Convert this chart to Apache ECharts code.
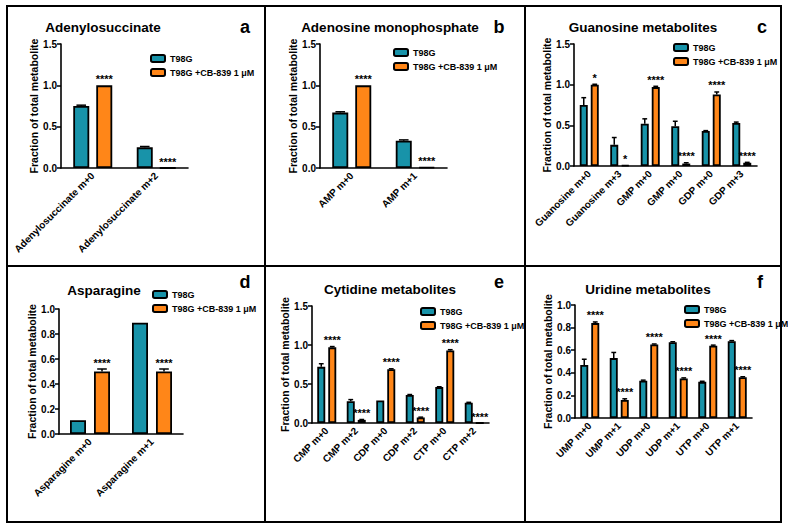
<!DOCTYPE html>
<html><head><meta charset="utf-8">
<script src="https://cdn.jsdelivr.net/npm/echarts@6/dist/echarts.min.js"></script>
<style>html,body{margin:0;padding:0;background:#fff}#c{width:788px;height:528px}</style>
</head><body><div id="c"></div>
<script>
const seriesNames = ['T98G', 'T98G +CB-839 1 μM'];

const aCats = ['Adenylosuccinate m+0', 'Adenylosuccinate m+2'];
const aT98G = [0.75, 0.25];
const aT98GErr = [0.01, 0.01];
const aCB = [1.0, 0.0];
const aCBErr = [0, 0];
const aStars = ['****', '****'];

const bCats = ['AMP m+0', 'AMP m+1'];
const bT98G = [0.67, 0.33];
const bT98GErr = [0.01, 0.01];
const bCB = [1.0, 0.01];
const bCBErr = [0, 0];
const bStars = ['****', '****'];

const cCats = ['Guanosine m+0', 'Guanosine m+3', 'GMP m+0', 'GMP m+0', 'GDP m+0', 'GDP m+3'];
const cT98G = [0.75, 0.26, 0.52, 0.49, 0.43, 0.53];
const cT98GErr = [0.09, 0.09, 0.06, 0.06, 0.005, 0.01];
const cCB = [1.0, 0.01, 0.97, 0.03, 0.88, 0.04];
const cCBErr = [0.005, 0, 0.01, 0.01, 0.03, 0.005];
const cStars = ['*', '*', '****', '****', '****', '****'];

const dCats = ['Asparagine m+0', 'Asparagine m+1'];
const dT98G = [0.11, 0.89];
const dT98GErr = [0, 0];
const dCB = [0.50, 0.50];
const dCBErr = [0.02, 0.02];
const dStars = ['****', '****'];

const eCats = ['CMP m+0', 'CMP m+2', 'CDP m+0', 'CDP m+2', 'CTP m+0', 'CTP m+2'];
const eT98G = [0.72, 0.28, 0.29, 0.36, 0.46, 0.26];
const eT98GErr = [0.04, 0.02, 0, 0.005, 0.005, 0.005];
const eCB = [0.97, 0.04, 0.69, 0.07, 0.93, 0.0];
const eCBErr = [0.01, 0.005, 0.005, 0.005, 0.01, 0];
const eStars = ['****', '****', '****', '****', '****', '****'];

const fCats = ['UMP m+0', 'UMP m+1', 'UDP m+0', 'UDP m+1', 'UTP m+0', 'UTP m+1'];
const fT98G = [0.47, 0.53, 0.33, 0.67, 0.32, 0.68];
const fT98GErr = [0.05, 0.05, 0.005, 0.005, 0.005, 0.005];
const fCB = [0.84, 0.16, 0.65, 0.35, 0.64, 0.36];
const fCBErr = [0.01, 0.01, 0.005, 0.005, 0.005, 0.005];
const fStars = ['****', '****', '****', '****', '****', '****'];

const yTicks15 = { max: 1.5, interval: 0.5 };
const yTicks10 = { max: 1.0, interval: 0.2 };

const FONT = '"Liberation Sans", Arial, sans-serif';
const TEAL = '#1893a9';
const ORANGE = '#ff8618';

const panels = [
  { title: 'Adenylosuccinate', letter: 'a', cats: aCats, t: aT98G, te: aT98GErr, o: aCB, oe: aCBErr, stars: aStars, y: yTicks15,
    grid: { left: 61, top: 44, width: 127, height: 124 }, barW: 16, gap: 7, titleX: 103, titleY: 27, letterX: 245, letterY: 27, legendX: 145, legendY: 49, nameGap: 18 },
  { title: 'Adenosine monophosphate', letter: 'b', cats: bCats, t: bT98G, te: bT98GErr, o: bCB, oe: bCBErr, stars: bStars, y: yTicks15,
    grid: { left: 320, top: 44, width: 127, height: 124 }, barW: 16, gap: 7, titleX: 390, titleY: 27, letterX: 499, letterY: 27, legendX: 388, legendY: 43, nameGap: 18 },
  { title: 'Guanosine metabolites', letter: 'c', cats: cCats, t: cT98G, te: cT98GErr, o: cCB, oe: cCBErr, stars: cStars, y: yTicks15,
    grid: { left: 574, top: 44, width: 183, height: 122 }, barW: 8, gap: 3, titleX: 643, titleY: 27, letterX: 762, letterY: 27, legendX: 668, legendY: 38, nameGap: 20 },
  { title: 'Asparagine', letter: 'd', cats: dCats, t: dT98G, te: dT98GErr, o: dCB, oe: dCBErr, stars: dStars, y: yTicks10,
    grid: { left: 59, top: 309, width: 124, height: 125 }, barW: 16, gap: 8, titleX: 104, titleY: 290, letterX: 245, letterY: 282, legendX: 147, legendY: 285, nameGap: 20 },
  { title: 'Cytidine metabolites', letter: 'e', cats: eCats, t: eT98G, te: eT98GErr, o: eCB, oe: eCBErr, stars: eStars, y: yTicks15,
    grid: { left: 312, top: 306, width: 177, height: 117 }, barW: 8, gap: 3, titleX: 390, titleY: 289, letterX: 499, letterY: 282, legendX: 415, legendY: 302, nameGap: 20 },
  { title: 'Uridine metabolites', letter: 'f', cats: fCats, t: fT98G, te: fT98GErr, o: fCB, oe: fCBErr, stars: fStars, y: yTicks10,
    grid: { left: 575, top: 305, width: 177, height: 113 }, barW: 8, gap: 3, titleX: 648, titleY: 289, letterX: 760, letterY: 282, legendX: 679, legendY: 300, nameGap: 20 }
];

const option = {
  animation: false,
  backgroundColor: '#fff',
  grid: [], xAxis: [], yAxis: [], series: [], legend: [],
  graphic: [
    { type: 'rect', shape: { x: 7, y: 6, width: 774, height: 516 }, style: { fill: 'none', stroke: '#000', lineWidth: 2 } },
    { type: 'line', shape: { x1: 265, y1: 6, x2: 265, y2: 522 }, style: { stroke: '#000', lineWidth: 2 } },
    { type: 'line', shape: { x1: 525, y1: 6, x2: 525, y2: 522 }, style: { stroke: '#000', lineWidth: 2 } },
    { type: 'line', shape: { x1: 7, y1: 266, x2: 781, y2: 266 }, style: { stroke: '#000', lineWidth: 2 } }
  ]
};

panels.forEach((p, i) => {
  option.grid.push(Object.assign({ containLabel: false }, p.grid));
  option.xAxis.push({
    type: 'category', gridIndex: i, data: p.cats,
    axisLine: { lineStyle: { color: '#000', width: 1.6 } },
    axisTick: { alignWithLabel: true, length: 4, lineStyle: { color: '#000', width: 1.5 } },
    axisLabel: { rotate: 45, color: '#000', fontFamily: FONT, fontWeight: 'bold', fontSize: 10, margin: 6, interval: 0 }
  });
  option.yAxis.push({
    type: 'value', gridIndex: i, min: 0, max: p.y.max, interval: p.y.interval,
    name: 'Fraction of total metabolite', nameLocation: 'middle', nameGap: p.nameGap,
    nameTextStyle: { color: '#000', fontFamily: FONT, fontWeight: 'bold', fontSize: 10.5 },
    axisLine: { show: true, lineStyle: { color: '#000', width: 1.6 } },
    axisTick: { show: true, length: 4, lineStyle: { color: '#000', width: 1.5 } },
    splitLine: { show: false },
    axisLabel: { color: '#000', fontFamily: FONT, fontWeight: 'bold', fontSize: 10, margin: 4, formatter: v => v.toFixed(1) }
  });
  const barCommon = {
    type: 'bar', xAxisIndex: i, yAxisIndex: i, barWidth: p.barW, barGap: (p.gap / p.barW * 100) + '%'
  };
  option.series.push(Object.assign({}, barCommon, {
    name: seriesNames[0], data: p.t, itemStyle: { color: TEAL, borderColor: '#000', borderWidth: 1.8 }
  }));
  option.series.push(Object.assign({}, barCommon, {
    name: seriesNames[1], data: p.o, itemStyle: { color: ORANGE, borderColor: '#000', borderWidth: 1.8 }
  }));
  const items = [];
  p.cats.forEach((c, j) => {
    items.push({ cat: j, v: p.t[j], e: p.te[j], k: 0, s: '' });
    items.push({ cat: j, v: p.o[j], e: p.oe[j], k: 1, s: p.stars[j] });
  });
  option.series.push({
    type: 'custom', xAxisIndex: i, yAxisIndex: i, z: 5, silent: true,
    itemStyle: { color: '#000' },
    data: items.map(it => [it.cat, it.v + it.e]),
    encode: { x: 0, y: 1 },
    renderItem: (params, api) => {
      const it = items[params.dataIndex];
      const base = api.coord([it.cat, it.v]);
      const top = api.coord([it.cat, it.v + it.e]);
      const x = base[0] + (it.k === 0 ? -1 : 1) * (p.barW + p.gap) / 2;
      const cap = Math.max(4, p.barW * 0.6);
      const ch = [];
      if (it.e > 0.002) {
        ch.push({ type: 'line', shape: { x1: x, y1: base[1], x2: x, y2: top[1] }, style: { stroke: '#000', lineWidth: 1.5 } });
        ch.push({ type: 'line', shape: { x1: x - cap / 2, y1: top[1], x2: x + cap / 2, y2: top[1] }, style: { stroke: '#000', lineWidth: 1.5 } });
      }
      if (it.s) {
        ch.push({ type: 'text', x: x, y: top[1] - 1, style: { text: it.s, fill: '#000', stroke: null, font: 'bold 11px ' + FONT, textAlign: 'center', textVerticalAlign: 'bottom' } });
      }
      return { type: 'group', children: ch };
    }
  });
  option.legend.push({
    data: seriesNames, orient: 'vertical', left: p.legendX, top: p.legendY,
    itemWidth: 14, itemHeight: 7, itemGap: 5, selectedMode: false,
    textStyle: { color: '#000', fontFamily: FONT, fontWeight: 'bold', fontSize: 9 }
  });
  option.graphic.push({ type: 'text', x: p.titleX, y: p.titleY, style: { text: p.title, fill: '#000', font: 'bold 13.5px ' + FONT, textAlign: 'center', textVerticalAlign: 'middle' } });
  option.graphic.push({ type: 'text', x: p.letterX, y: p.letterY, style: { text: p.letter, fill: '#000', font: 'bold 18px ' + FONT, textAlign: 'center', textVerticalAlign: 'middle' } });
});

const chart = echarts.init(document.getElementById('c'), null, { renderer: 'svg' });
chart.setOption(option);
</script>
</body></html>
